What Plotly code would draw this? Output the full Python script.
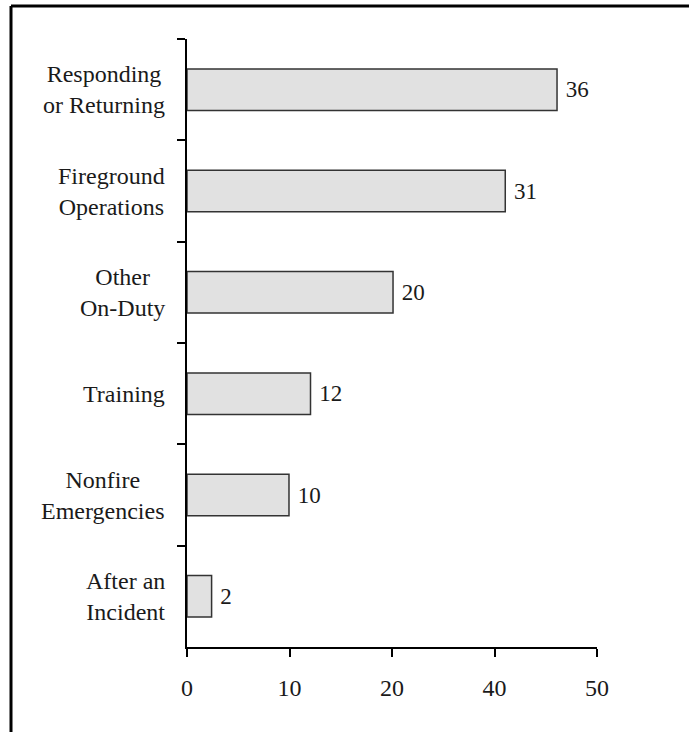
import plotly.graph_objects as go

categories = ["Responding<br>or Returning", "Fireground<br>Operations", "Other<br>On-Duty",
              "Training", "Nonfire<br>Emergencies", "After an<br>Incident"]
bar_values = [36.1, 31.05, 20.1, 12.05, 9.95, 2.4]
bar_labels = ["36", "31", "20", "12", "10", "2"]
tick_values = [0, 10, 20, 30, 40]
tick_labels = ["0", "10", "20", "40", "50"]

FONT = "Liberation Serif"
TXT = "#1a1a1a"

fig = go.Figure()
fig.add_trace(go.Bar(
    y=categories, x=bar_values, orientation="h",
    marker=dict(color="#e1e1e1", line=dict(color="#333333", width=1.5)),
    text=bar_labels, texttemplate=" %{text}", textposition="outside", constraintext="none",
    textfont=dict(family=FONT, size=23, color=TXT),
    cliponaxis=False, hoverinfo="skip",
))

for c in categories:
    fig.add_annotation(x=0, xref="paper", y=c, yref="y", text=c, showarrow=False,
                       xanchor="right", align="center", xshift=-20,
                       font=dict(family=FONT, size=24, color=TXT))

L, R, T, B = 187, 92, 39, 85
W, H = 689, 732
pw = W - L - R
ph = H - T - B
bx = (11 - L) / pw
by = (H - B - 6) / ph
fig.add_shape(type="line", xref="paper", yref="paper", x0=bx, x1=bx, y0=-0.3, y1=by,
              line=dict(color="black", width=3))
fig.add_shape(type="line", xref="paper", yref="paper", x0=bx, x1=1.5, y0=by, y1=by,
              line=dict(color="black", width=3))

fig.update_layout(
    width=W, height=H, margin=dict(l=L, r=R, t=T, b=B),
    plot_bgcolor="white", paper_bgcolor="white",
    bargap=0.59, showlegend=False,
    font=dict(family=FONT, size=22, color=TXT),
)
fig.update_xaxes(range=[0, 40], tickvals=tick_values, ticktext=tick_labels,
                 showline=True, linecolor="black", linewidth=2, ticks="outside",
                 ticklen=8, tickwidth=2, tickcolor="black", showgrid=False, zeroline=False,
                 tickfont=dict(family=FONT, size=24, color=TXT), ticklabelstandoff=10)
fig.update_yaxes(type="category", categoryarray=categories, range=[5.5, -0.5],
                 showline=True, linecolor="black", linewidth=2, ticks="outside",
                 tickson="boundaries", ticklen=8, tickwidth=2, tickcolor="black",
                 showticklabels=False, showgrid=False, zeroline=False)

fig.write_html("out.html", config={"displayModeBar": False},
               post_script="document.body.style.margin='0';")
